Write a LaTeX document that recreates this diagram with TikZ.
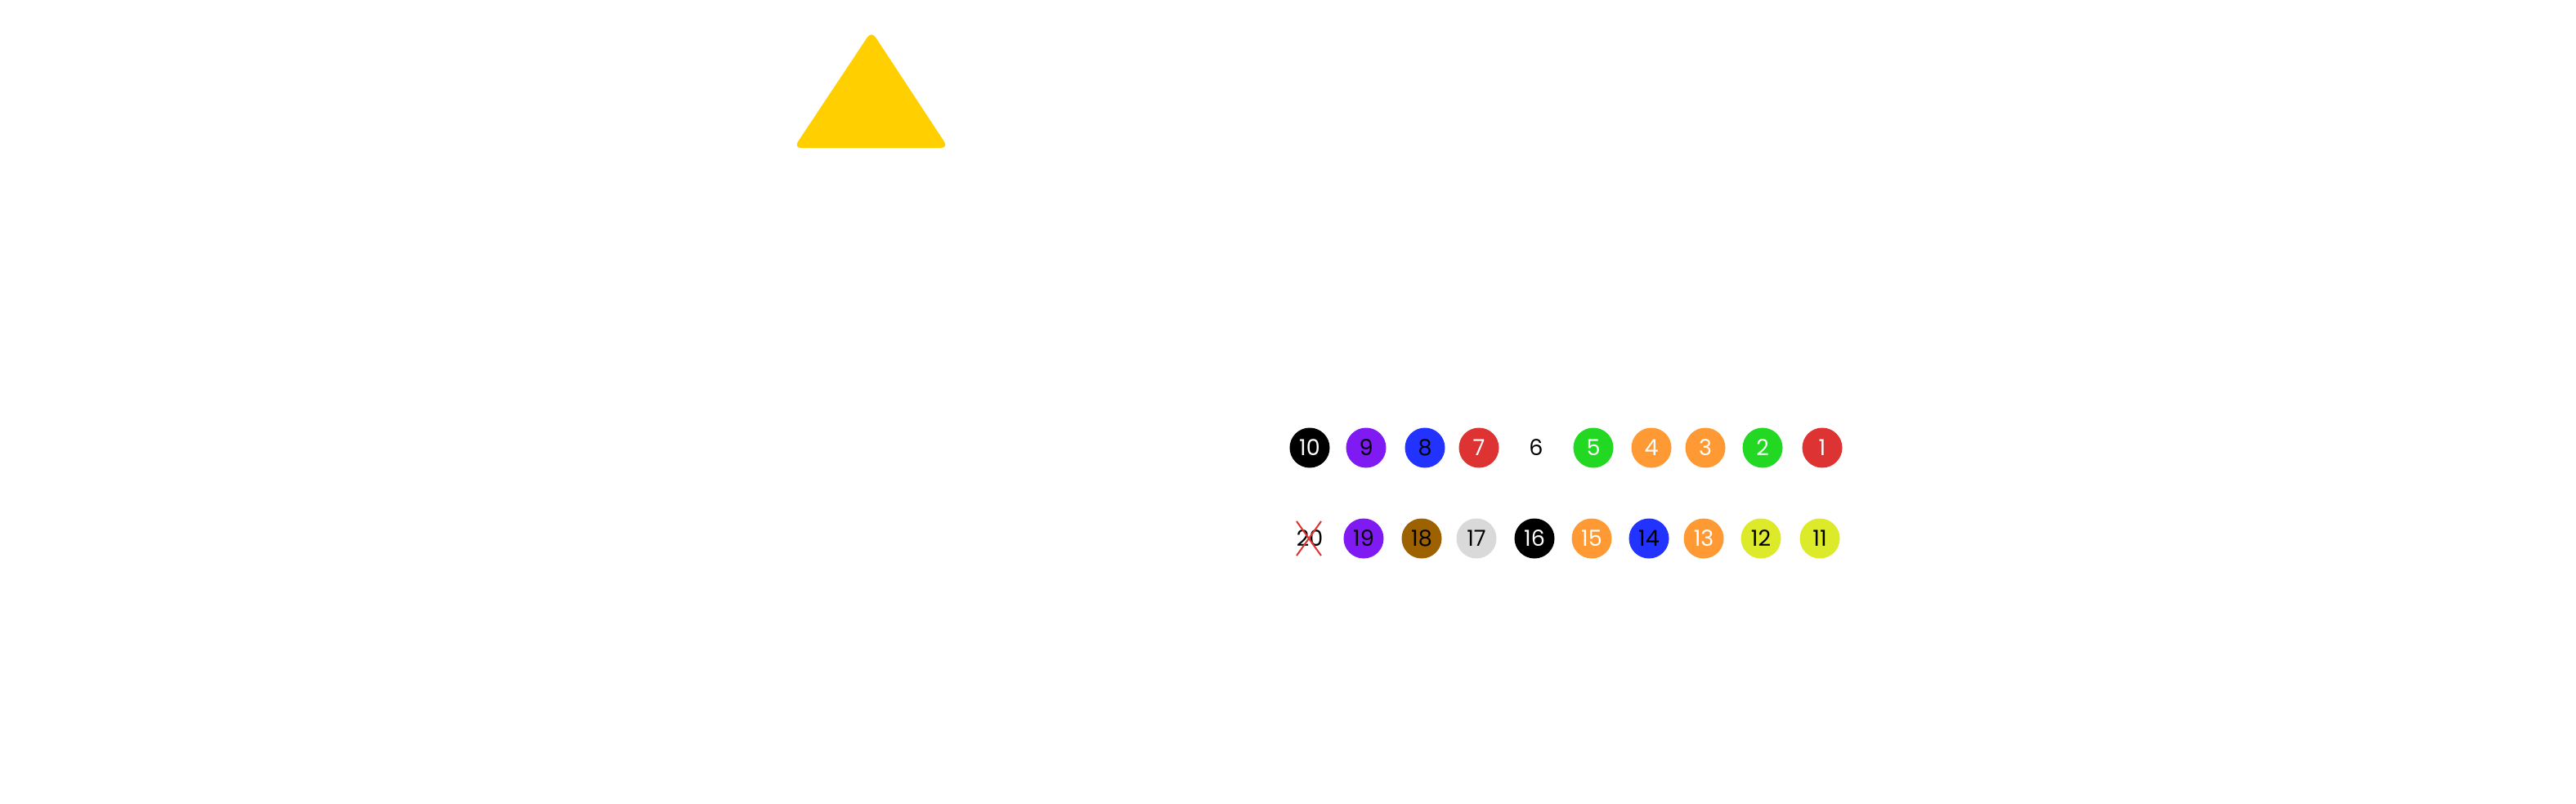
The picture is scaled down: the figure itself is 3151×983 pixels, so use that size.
\documentclass[tikz,border=0pt]{standalone}
\usepackage{fontspec}
\setmainfont{Poppins}
\definecolor{kblack}{HTML}{000000}
\definecolor{kpurple}{HTML}{7F1AF2}
\definecolor{kblue}{HTML}{2233FF}
\definecolor{kred}{HTML}{DD3333}
\definecolor{kgreen}{HTML}{22D822}
\definecolor{korange}{HTML}{FF9933}
\definecolor{kbrown}{HTML}{9E6100}
\definecolor{kgrey}{HTML}{D9D9D9}
\definecolor{kyellow}{HTML}{DDEA2A}
\definecolor{kgold}{HTML}{FFCF00}
\tikzset{ball/.style 2 args={
    circle,
    fill=#1,
    text=#2,
    minimum size=49pt,
    inner sep=0pt,
    font=\fontsize{27}{27}\selectfont
}}

\begin{document}
\begin{tikzpicture}[x=1pt,y=-1pt]
    \useasboundingbox (0,0) rectangle (3151,983);

    % The warning triangle.
    \fill[kgold, rounded corners=9pt] (1066,38) -- (1160,181) -- (971,181) -- cycle;

    % Top row of balls.
    \foreach \num/\xpos/\bg/\fg in {10/1602/kblack/white,9/1671/kpurple/black,
        8/1743/kblue/black,7/1809/kred/white,6/1879/white/black,5/1949/kgreen/white,
        4/2020/korange/white,3/2086/korange/white,2/2156/kgreen/white,1/2229/kred/white}
        \node[ball={\bg}{\fg}] (b\num) at (\xpos,548) {\num};

    % Bottom row of balls.
    \foreach \num/\xpos/\bg/\fg in {20/1602/white/black,19/1668/kpurple/black,
        18/1739/kbrown/black,17/1806/kgrey/black,16/1877/kblack/white,15/1947/korange/white,
        14/2017/kblue/black,13/2084/korange/white,12/2154/kyellow/black,11/2226/kyellow/black}
        \node[ball={\bg}{\fg}] (b\num) at (\xpos,659) {\num};

    % Cross out ball 20.
    \draw[kred, line width=2pt] ([shift={(-16,-21)}]b20.center) -- ([shift={(14,21)}]b20.center);
    \draw[kred, line width=2pt] ([shift={(14,-21)}]b20.center) -- ([shift={(-16,21)}]b20.center);
\end{tikzpicture}
\end{document}
